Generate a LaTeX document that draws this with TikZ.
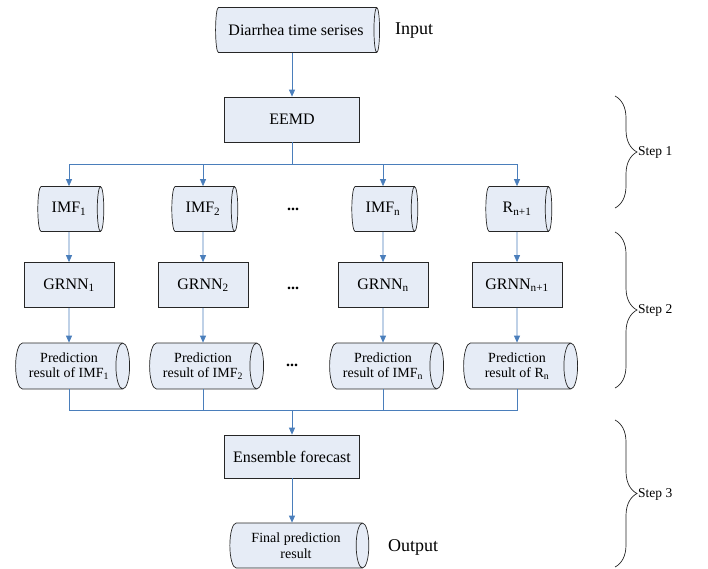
\documentclass[tikz,border=0pt]{standalone}
\usepackage{fontspec}
\setmainfont{Liberation Serif}
\usetikzlibrary{shapes.geometric,arrows.meta,decorations.pathreplacing}

\definecolor{lineblue}{RGB}{74,126,187}
\definecolor{boxfill}{RGB}{230,236,246}

\tikzset{
  flow/.style={draw=lineblue,line width=0.8pt},
  arr/.style={flow,-{Triangle[length=7pt,width=6pt]}},
  procbox/.style={draw=black!85,fill=boxfill,line width=0.7pt,rectangle,minimum height=45pt,inner sep=0pt,font=\fontsize{16}{18}\selectfont},
  datacyl/.style={draw=black!85,fill=boxfill,line width=0.7pt,cylinder,aspect=0.5,inner sep=0pt,font=\fontsize{16}{18}\selectfont},
  predcyl/.style={datacyl,minimum width=46pt,minimum height=114pt,align=center,font=\fontsize{14}{15.5}\selectfont},
  iolab/.style={anchor=west,inner sep=0pt,font=\fontsize{18}{20}\selectfont},
  steplab/.style={anchor=west,inner sep=0pt,font=\fontsize{13.5}{15}\selectfont},
  dotlab/.style={inner sep=0pt,font=\fontsize{16}{18}\selectfont\bfseries},
  stepbrace/.style={draw=black!85,line width=0.7pt,decorate,decoration={brace,amplitude=22pt}}
}

\begin{document}
\begin{tikzpicture}[x=1pt,y=-1pt]
\useasboundingbox (0,0) rectangle (708,568);

% input and decomposition
\node[datacyl,minimum width=45pt,minimum height=164pt] (input) at (296,30) {Diarrhea time serises};
\node[iolab] (inlab) at (395,31) {Input};
\node[procbox,minimum width=135pt] (eemd) at (292,119.5) {EEMD};
\coordinate (split) at (292,164);
\draw[arr] (input.south -| eemd.north) -- (eemd);
\draw[flow] (eemd) -- (split);

% four columns
\foreach \x/\i/\imf/\grnn/\pred in {69/1/IMF\textsubscript{1}/GRNN\textsubscript{1}/IMF\textsubscript{1},
  203/2/IMF\textsubscript{2}/GRNN\textsubscript{2}/IMF\textsubscript{2},
  383/3/IMF\textsubscript{n}/GRNN\textsubscript{n}/IMF\textsubscript{n},
  517/4/R\textsubscript{n+1}/GRNN\textsubscript{n+1}/R\textsubscript{n}} {
\node[datacyl,minimum width=45pt,minimum height=66pt] (imf\i) at (\x,209) {\imf};
\node[procbox,minimum width=90pt] (grnn\i) at (\x,285) {\grnn};
\node[predcyl] (pred\i) at (\x,366) {Prediction\\result of \pred};
\draw[arr] (split) -| (imf\i.north);
\draw[arr] (imf\i) -- (grnn\i);
\draw[arr] (grnn\i) -- (pred\i);
}
\node[dotlab] (dots1) at (293,209) {...};
\node[dotlab] (dots2) at (293,288) {...};
\node[dotlab] (dots3) at (292,365) {...};

% ensemble and output
\coordinate (merge) at (292,410);
\foreach \i in {1,...,4} \draw[flow] (pred\i.south) |- (merge);
\node[procbox,minimum width=135pt,minimum height=43pt] (ens) at (292,456.5) {Ensemble forecast};
\node[datacyl,minimum width=45pt,minimum height=139pt,align=center,font=\fontsize{14}{15.5}\selectfont] (final) at (296,545.5) {Final prediction\\result};
\node[iolab] (outlab) at (388,547) {Output};
\draw[arr] (merge) -- (ens);
\draw[arr] (ens) -- (ens.south |- final.north);

% steps
\draw[stepbrace] (615,96) -- (615,208);
\draw[stepbrace] (615,232) -- (615,388);
\draw[stepbrace] (615,420) -- (615,567);
\node[steplab] (step1) at (638,152) {Step 1};
\node[steplab] (step2) at (638,310) {Step 2};
\node[steplab] (step3) at (638,494) {Step 3};
\end{tikzpicture}
\end{document}
